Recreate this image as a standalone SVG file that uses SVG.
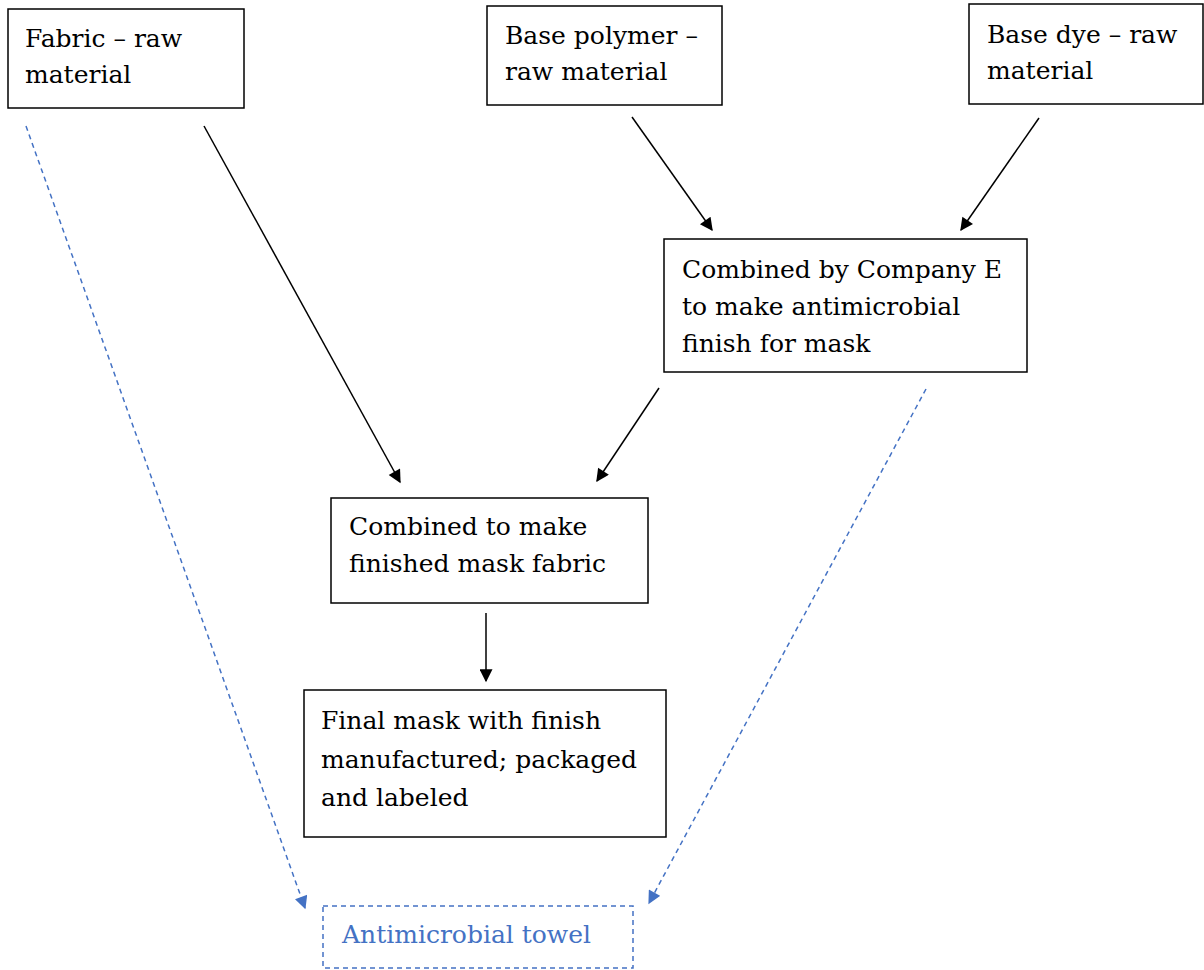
<svg xmlns="http://www.w3.org/2000/svg" width="1204" height="970" viewBox="0 0 1204 970">
  <style>
    .box { fill: #fff; stroke: #000; stroke-width: 1.5; }
    .dbox { fill: #fff; stroke: #4472C4; stroke-width: 1.5; stroke-dasharray: 5 4; }
    text { font-family: 'DejaVu Serif', serif; font-size: 25px; }
    .t { fill: #000; }
    .tb { fill: #4472C4; }
    .ln { stroke: #000; stroke-width: 1.5; fill: none; marker-end: url(#ah); }
    .dl { stroke: #4472C4; stroke-width: 1.5; fill: none; stroke-dasharray: 5 4; marker-end: url(#ahb); }
  </style>
  <defs>
    <marker id="ah" viewBox="0 0 10 10" refX="9" refY="5" markerWidth="15" markerHeight="13" markerUnits="userSpaceOnUse" orient="auto">
      <path d="M0,0 L10,5 L0,10 z" fill="#000"/>
    </marker>
    <marker id="ahb" viewBox="0 0 10 10" refX="9" refY="5" markerWidth="15" markerHeight="13" markerUnits="userSpaceOnUse" orient="auto">
      <path d="M0,0 L10,5 L0,10 z" fill="#4472C4"/>
    </marker>
  </defs>
  <rect width="1204" height="970" fill="#fff"/>

  <g id="connectors">
    <line class="ln" x1="204" y1="126" x2="400" y2="482"/>
    <line class="ln" x1="632" y1="117" x2="712" y2="230"/>
    <line class="ln" x1="1039" y1="118" x2="961" y2="230"/>
    <line class="ln" x1="659" y1="388" x2="597" y2="481"/>
    <line class="ln" x1="486" y1="613" x2="486" y2="681"/>
    <line class="dl" x1="26" y1="126" x2="305" y2="908"/>
    <line class="dl" x1="926" y1="389" x2="649" y2="903"/>
  </g>

  <g id="fabric">
    <rect class="box" x="8" y="9" width="236" height="99"/>
    <text class="t" x="25" y="47">Fabric – raw</text>
    <text class="t" x="25" y="83">material</text>
  </g>

  <g id="base-polymer">
    <rect class="box" x="487" y="6" width="235" height="99"/>
    <text class="t" x="505" y="44">Base polymer –</text>
    <text class="t" x="505" y="80">raw material</text>
  </g>

  <g id="base-dye">
    <rect class="box" x="969" y="4" width="234" height="100"/>
    <text class="t" x="987" y="43">Base dye – raw</text>
    <text class="t" x="987" y="79">material</text>
  </g>

  <g id="company-e">
    <rect class="box" x="664" y="239" width="363" height="133"/>
    <text class="t" x="682" y="278">Combined by Company E</text>
    <text class="t" x="682" y="315">to make antimicrobial</text>
    <text class="t" x="682" y="352">finish for mask</text>
  </g>

  <g id="mask-fabric">
    <rect class="box" x="331" y="498" width="317" height="105"/>
    <text class="t" x="349" y="535">Combined to make</text>
    <text class="t" x="349" y="572">finished mask fabric</text>
  </g>

  <g id="final-mask">
    <rect class="box" x="304" y="690" width="362" height="147"/>
    <text class="t" x="321" y="729">Final mask with finish</text>
    <text class="t" x="321" y="768">manufactured; packaged</text>
    <text class="t" x="321" y="806">and labeled</text>
  </g>

  <g id="towel">
    <rect class="dbox" x="323" y="906" width="310" height="62"/>
    <text class="tb" x="342" y="943">Antimicrobial towel</text>
  </g>
</svg>
